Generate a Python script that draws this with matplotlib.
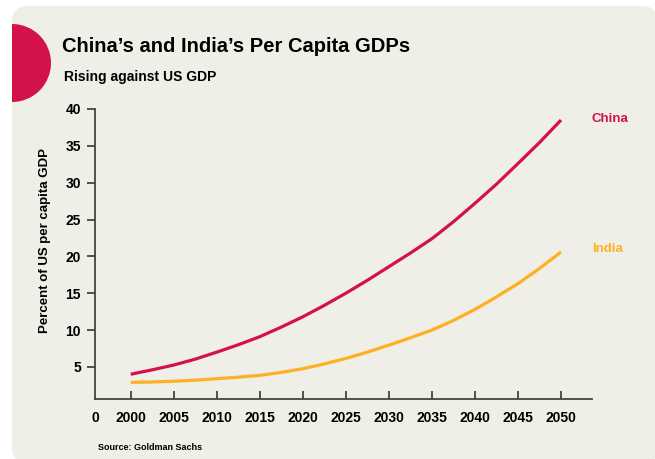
import matplotlib.pyplot as plt
from matplotlib.patches import FancyBboxPatch, Circle

# Per capita GDP as a percentage of US per capita GDP
years = [2000, 2002.5, 2005, 2007.5, 2010, 2012.5, 2015, 2017.5, 2020, 2022.5,
         2025, 2027.5, 2030, 2032.5, 2035, 2037.5, 2040, 2042.5, 2045, 2047.5,
         2050]
china = [4.0, 4.6, 5.25, 6.05, 7.0, 8.0, 9.1, 10.4, 11.8, 13.35,
         15.0, 16.75, 18.6, 20.45, 22.4, 24.7, 27.2, 29.8, 32.6, 35.45,
         38.5]
india = [2.9, 2.95, 3.05, 3.2, 3.4, 3.6, 3.85, 4.25, 4.75, 5.4,
         6.15, 7.0, 7.95, 8.95, 10.0, 11.3, 12.8, 14.5, 16.3, 18.35,
         20.6]
yticks = [5, 10, 15, 20, 25, 30, 35, 40]
xticks = [2000, 2005, 2010, 2015, 2020, 2025, 2030, 2035, 2040, 2045, 2050]

RED = '#D3124A'
GOLD = '#FDB022'
PANEL = '#EFEEE7'
INK = '#444444'

plt.rcParams['font.family'] = ['Liberation Sans', 'DejaVu Sans']
plt.rcParams['font.weight'] = 'bold'

W, H = 655, 459
fig = plt.figure(figsize=(W / 100, H / 100), dpi=100)
fig.patch.set_facecolor('white')

# background panel with rounded corners, partly running off the edges
px = lambda x: x / W
py = lambda y: 1 - y / H
panel = FancyBboxPatch((px(12), py(463)), px(658) - px(12), py(6) - py(463),
                       boxstyle='round,pad=0,rounding_size=0.025',
                       transform=fig.transFigure, facecolor=PANEL,
                       edgecolor='none', mutation_aspect=W / H, zorder=-2)
fig.patches.append(panel)

# red disc cut off at the panel's left edge
disc = Circle((12, H - 63), 39, transform=None, facecolor=RED,
              edgecolor='none', zorder=-1)
disc.set_clip_path(panel)
fig.patches.append(disc)

fig.text(px(62), py(47), 'China\u2019s and India\u2019s Per Capita GDPs',
         fontsize=14.5, fontweight='bold', va='center', ha='left')
fig.text(px(64), py(77), 'Rising against US GDP',
         fontsize=10, fontweight='bold', va='center', ha='left')
fig.text(px(98), py(448), 'Source: Goldman Sachs',
         fontsize=6.5, fontweight='bold', va='center', ha='left')

ax = fig.add_axes([px(95), py(399), px(592) - px(95), py(109) - py(399)])
ax.set_facecolor('none')
ax.set_zorder(1)

ax.plot(years, china, color=RED, lw=2.3, solid_capstyle='butt')
ax.plot(years, india, color=GOLD, lw=2.3, solid_capstyle='butt')

ax.set_xlim(1995.85, 2053.6)
ax.set_ylim(0.64, 40)

ax.text(2053.6, 38.7, 'China', color=RED, fontsize=9.5, fontweight='bold',
        va='center', ha='left', clip_on=False)
ax.text(2053.6, 21.0, 'India', color=GOLD, fontsize=9.5, fontweight='bold',
        va='center', ha='left', clip_on=False)

for side in ['top', 'right']:
    ax.spines[side].set_visible(False)
for side in ['left', 'bottom']:
    ax.spines[side].set_color(INK)
    ax.spines[side].set_linewidth(1.3)

ax.set_yticks(yticks)
ax.set_xticks([1995.85] + xticks)
ax.set_xticklabels(['0'] + [str(x) for x in xticks])
ax.xaxis.get_major_ticks()[0].tick1line.set_visible(False)
ax.tick_params(axis='x', direction='in', length=6, width=1.3, color=INK,
               pad=9, labelsize=10)
ax.tick_params(axis='y', direction='out', length=6, width=1.3, color=INK,
               pad=4, labelsize=10)

ax.set_ylabel('Percent of US per capita GDP', fontsize=9.5, fontweight='bold')
ax.yaxis.set_label_coords(-0.088, 0.545)

fig.savefig('out.png', dpi=100, facecolor=fig.get_facecolor())
